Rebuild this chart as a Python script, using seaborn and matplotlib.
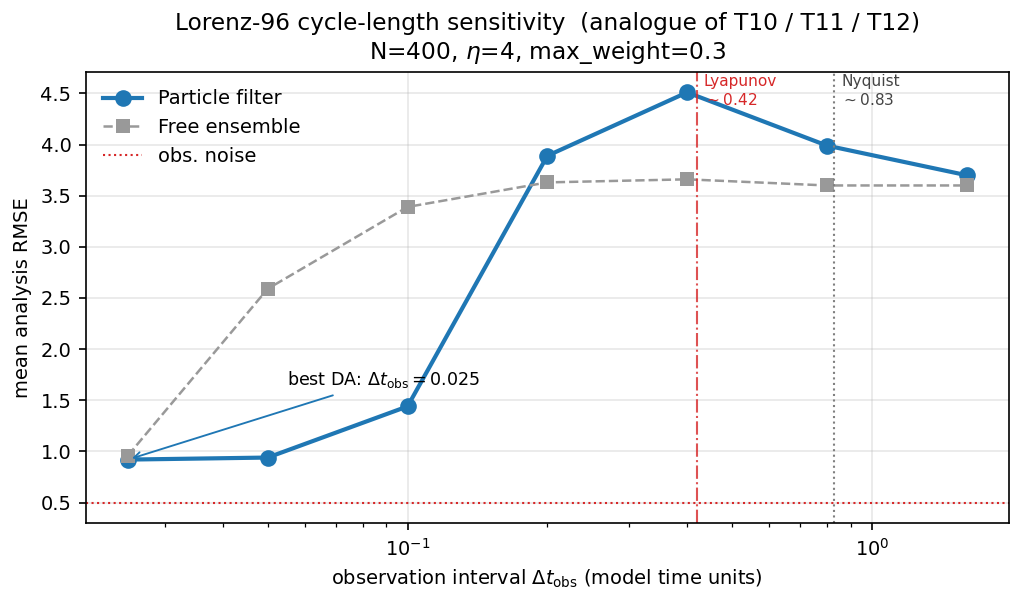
import numpy as np
import pandas as pd
import matplotlib
matplotlib.use("Agg")
import matplotlib.pyplot as plt
import seaborn as sns

# dados
dt_obs = [0.025, 0.05, 0.1, 0.2, 0.4, 0.8, 1.6]
rmse_pf = [0.92, 0.94, 1.44, 3.89, 4.51, 3.99, 3.70]
rmse_free = [0.96, 2.59, 3.39, 3.63, 3.66, 3.60, 3.60]
obs_noise = 0.5
t_lyap = 0.42
t_nyq = 0.83

df = pd.DataFrame({
    'dt': dt_obs * 2,
    'rmse': rmse_pf + rmse_free,
    'serie': ['Particle filter'] * len(dt_obs) + ['Free ensemble'] * len(dt_obs),
})

fig, ax = plt.subplots(figsize=(1024 / 150, 604 / 150), dpi=150)

sns.lineplot(data=df[df['serie'] == 'Particle filter'], x='dt', y='rmse', ax=ax,
             color='C0', lw=2, marker='o', markersize=8, markeredgewidth=0,
             label='Particle filter')
sns.lineplot(data=df[df['serie'] == 'Free ensemble'], x='dt', y='rmse', ax=ax,
             color='#999999', lw=1.2, ls='--', marker='s', markersize=7,
             markeredgewidth=0, label='Free ensemble')
ax.axhline(obs_noise, color='C3', ls=':', lw=1, label='obs. noise')

ax.set_xscale('log')

# linhas verticais de referencia
ax.axvline(t_lyap, color='C3', ls='-.', lw=1, alpha=0.8)
ax.axvline(t_nyq, color='gray', ls=':', lw=1)
trans = ax.get_xaxis_transform()
ax.text(t_lyap * 1.035, 0.995, f"Lyapunov\n$\\sim${t_lyap:.2f}", transform=trans,
        color='C3', fontsize=7.4, va='top', ha='left')
ax.text(t_nyq * 1.035, 0.995, f"Nyquist\n$\\sim${t_nyq:.2f}", transform=trans,
        color='#444444', fontsize=7.4, va='top', ha='left')

ax.annotate(r"best DA: $\Delta t_{\rm obs}=0.025$", xy=(dt_obs[0], rmse_pf[0]),
            xytext=(0.055, 1.65), fontsize=8.4,
            arrowprops=dict(arrowstyle='->', color='C0', lw=0.9))

ax.set_xlabel(r"observation interval $\Delta t_{\rm obs}$ (model time units)", fontsize=9.3)
ax.set_ylabel("mean analysis RMSE", fontsize=9.3)
ax.set_title("Lorenz-96 cycle-length sensitivity  (analogue of T10 / T11 / T12)\n"
             r"N=400, $\eta$=4, max_weight=0.3", fontsize=11.2)
ax.tick_params(labelsize=9.3)
ax.grid(True, alpha=0.3)
ax.legend(loc='upper left', frameon=False, fontsize=9.3)

plt.subplots_adjust(left=0.084, right=0.985, top=0.881, bottom=0.134)
plt.savefig('out.png', dpi=150)
